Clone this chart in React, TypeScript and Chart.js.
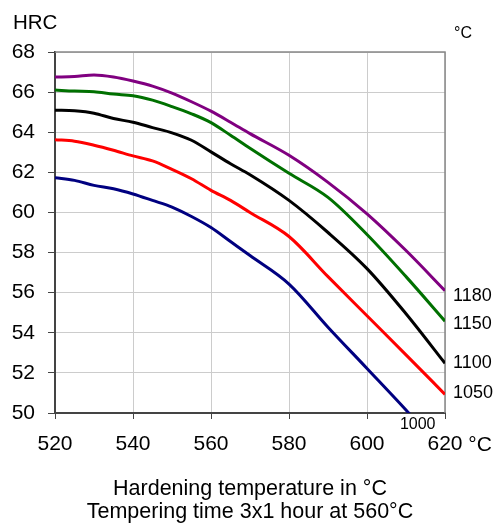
import React, { useEffect, useRef } from "react";
import { Chart, registerables } from "chart.js";

Chart.register(...registerables);

// Tempering temperature (°C)
const temps = [520, 525, 530, 535, 540, 545, 550, 555, 560, 565, 570, 580, 590, 600, 610, 620];

// Hardness (HRC) per hardening temperature
const hrc1180 = [66.75, 66.78, 66.85, 66.75, 66.55, 66.3, 65.95, 65.52, 65.05, 64.5, 63.93, 62.85, 61.5, 59.93, 58.1, 56.1];
const hrc1150 = [66.1, 66.05, 66.02, 65.9, 65.82, 65.6, 65.28, 64.92, 64.48, 63.85, 63.2, 61.95, 60.75, 58.9, 56.8, 54.58];
const hrc1100 = [65.1, 65.07, 64.95, 64.68, 64.5, 64.23, 63.97, 63.6, 63.02, 62.43, 61.88, 60.6, 59.0, 57.2, 54.95, 52.48];
const hrc1050 = [63.63, 63.55, 63.35, 63.1, 62.82, 62.57, 62.15, 61.68, 61.1, 60.6, 60.0, 58.8, 56.8, 54.85, 52.9, 50.93];
const hrc1000 = [61.73, 61.6, 61.35, 61.18, 60.92, 60.6, 60.27, 59.8, 59.25, 58.55, 57.85, 56.43, 54.28, 52.22, 50.15, 48.0];

const seriesNames = ["1180", "1150", "1100", "1050", "1000"];
const seriesData = [hrc1180, hrc1150, hrc1100, hrc1050, hrc1000];
const seriesColors = ["#800080", "#007000", "#000000", "#ff0000", "#000080"];

const xTitle1 = "Hardening temperature in °C";
const xTitle2 = "Tempering time 3x1 hour at 560°C";
const yUnit = "HRC";
const FONT = "'Liberation Sans', Arial, sans-serif";

const annotPlugin = {
  id: "annot",
  beforeDatasetsDraw(chart: any) {
    const { ctx, chartArea } = chart;
    ctx.save();
    ctx.strokeStyle = "#888888";
    ctx.lineWidth = 1.5;
    ctx.beginPath();
    ctx.moveTo(chartArea.left, chartArea.top);
    ctx.lineTo(chartArea.right, chartArea.top);
    ctx.lineTo(chartArea.right, chartArea.bottom);
    ctx.stroke();
    ctx.restore();
  },
  afterDraw(chart: any) {
    const { ctx, chartArea, scales } = chart;
    const x = scales.x;
    const y = scales.y;
    ctx.save();
    ctx.fillStyle = "#000";
    // HRC
    ctx.font = `20.5px ${FONT}`;
    ctx.textAlign = "left";
    ctx.textBaseline = "alphabetic";
    ctx.fillText(yUnit, 13, 29);
    // °C top right
    ctx.font = `16px ${FONT}`;
    ctx.fillText("°C", chartArea.right + 9, 38);
    // °C after 620
    ctx.font = `21px ${FONT}`;
    const w620 = ctx.measureText("620").width;
    ctx.fillText(" °C", x.getPixelForValue(620) + w620 / 2, 451);
    // axis title
    ctx.textAlign = "center";
    ctx.font = `21.5px ${FONT}`;
    const cx = (chartArea.left + chartArea.right) / 2;
    ctx.fillText(xTitle1, cx, 495);
    ctx.fillText(xTitle2, cx, 518);
    // series labels
    const dys = [5, 3, 0, -1];
    ctx.textAlign = "left";
    ctx.textBaseline = "middle";
    ctx.font = `18px ${FONT}`;
    for (let i = 0; i < 4; i++) {
      const d = seriesData[i];
      const py = y.getPixelForValue(d[d.length - 1]) + dys[i];
      ctx.fillText(seriesNames[i], chartArea.right + 8, py);
    }
    ctx.font = `16px ${FONT}`;
    ctx.textAlign = "center";
    ctx.fillText(seriesNames[4], x.getPixelForValue(613), chartArea.bottom + 12);
    ctx.restore();
  },
};

export default function App() {
  const ref = useRef<HTMLCanvasElement>(null);
  useEffect(() => {
    if (!ref.current) return;
    const chart = new Chart(ref.current, {
      type: "line",
      data: {
        datasets: seriesData.map((d, i) => ({
          label: seriesNames[i],
          data: temps.map((t, j) => ({ x: t, y: d[j] })),
          borderColor: seriesColors[i],
          backgroundColor: seriesColors[i],
          borderWidth: 3,
          pointRadius: 0,
          cubicInterpolationMode: "monotone" as const,
          fill: false,
        })),
      },
      options: {
        animation: false,
        responsive: false,
        layout: { padding: { top: 52, right: 51, left: 0, bottom: 0 } },
        plugins: { legend: { display: false }, tooltip: { enabled: false } },
        scales: {
          x: {
            type: "linear",
            min: 520,
            max: 620,
            afterFit: (s: any) => {
              s.height = 112;
            },
            ticks: {
              stepSize: 20,
              padding: 13,
              color: "#000",
              font: { family: FONT, size: 21 },
              maxRotation: 0,
            },
            grid: { color: "#cccccc", lineWidth: 1, tickColor: "#444444", tickLength: 6 },
            border: { color: "#444444", width: 2 },
          },
          y: {
            type: "linear",
            min: 50,
            max: 68,
            afterFit: (s: any) => {
              s.width = 55;
            },
            ticks: {
              stepSize: 2,
              padding: 13,
              color: "#000",
              font: { family: FONT, size: 21 },
            },
            grid: { color: "#cccccc", lineWidth: 1, tickColor: "#444444", tickLength: 7 },
            border: { color: "#444444", width: 2 },
          },
        },
      },
      plugins: [annotPlugin],
    });
    return () => chart.destroy();
  }, []);
  return (
    <div style={{ position: "absolute", left: 0, top: 0, width: 496, height: 525 }}>
      <canvas ref={ref} width={496} height={525} />
    </div>
  );
}
